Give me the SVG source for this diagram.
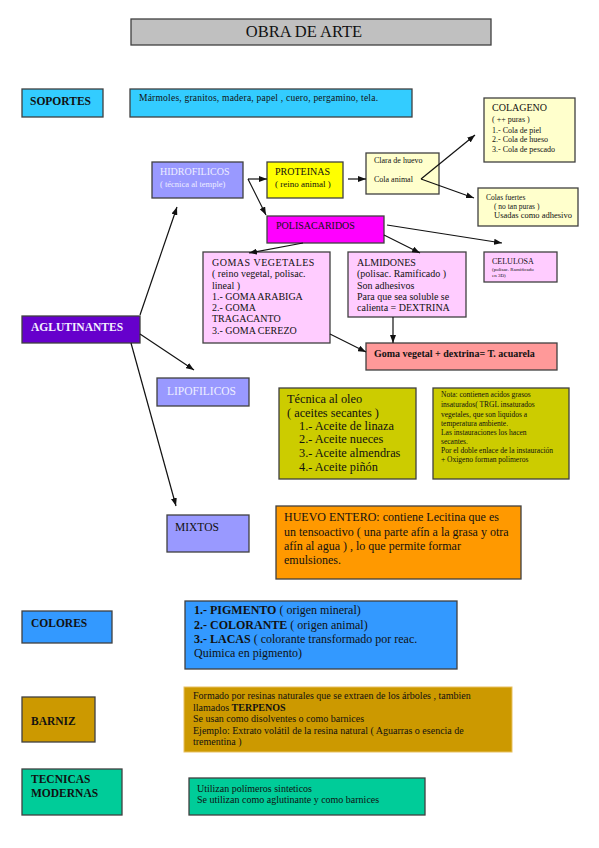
<svg xmlns="http://www.w3.org/2000/svg" width="599" height="848" viewBox="0 0 599 848">
<style>
.b{stroke:#404040;stroke-width:1.3}
text{font-family:"Liberation Serif","Times New Roman",serif;fill:#111}
.bd{font-weight:bold}
.w{fill:#eeeeff}
.c{stroke:#111;stroke-width:1.2;fill:none;marker-end:url(#ah)}
</style>
<defs>
<marker id="ah" viewBox="0 0 8 6" refX="8" refY="3" markerWidth="8" markerHeight="6" markerUnits="userSpaceOnUse" orient="auto">
<path d="M0,0 L8,3 L0,6 z" fill="#111"/>
</marker>
</defs>
<rect width="599" height="848" fill="#fff"/>

<g id="title"><rect class="b" x="131" y="19" width="360" height="26" fill="#c0c0c0"/><text x="304" y="37" font-size="16.5" text-anchor="middle">OBRA DE ARTE</text></g>

<g id="soportes"><rect class="b" x="22" y="89" width="81" height="28" fill="#33ccff"/><text class="bd" x="30" y="105" font-size="11.5">SOPORTES</text></g>
<g id="soportes-desc"><rect class="b" x="130" y="89" width="282" height="28" fill="#33ccff"/><text x="139" y="101" font-size="9.5" textLength="239">Mármoles, granitos, madera, papel , cuero, pergamino, tela.</text></g>

<g id="hidrofilicos"><rect class="b" x="152" y="162" width="91" height="36" fill="#9999ff"/><text class="w" x="160" y="175" font-size="10">HIDROFILICOS<tspan x="160" y="187" font-size="8.5">( técnica al temple)</tspan></text></g>
<g id="proteinas"><rect class="b" x="267" y="162" width="76" height="36" fill="#ffff00"/><text x="275" y="175" font-size="10">PROTEINAS<tspan x="275" y="187" font-size="9">( reino animal )</tspan></text></g>
<g id="clara"><rect class="b" x="366" y="153" width="73" height="41" fill="#ffffcc"/><text x="374" y="163" font-size="8">Clara de huevo<tspan x="374" y="182">Cola animal</tspan></text></g>
<g id="colageno"><rect class="b" x="484" y="98" width="91" height="64" fill="#ffffcc"/><text x="492" y="111" font-size="10">COLAGENO<tspan x="492" y="122" font-size="8">( ++ puras )</tspan><tspan x="492" y="133" font-size="8">1.- Cola de piel</tspan><tspan x="492" y="142" font-size="8">2.- Cola de hueso</tspan><tspan x="492" y="152" font-size="8">3.- Cola de pescado</tspan></text></g>
<g id="colas-fuertes"><rect class="b" x="478" y="188" width="100" height="38" fill="#ffffcc"/><text x="486" y="200" font-size="7.5">Colas fuertes<tspan x="494" y="209">( no tan puras )</tspan><tspan x="494" y="218" font-size="8.5">Usadas como adhesivo</tspan></text></g>
<g id="polisacaridos"><rect class="b" x="267" y="216" width="117" height="27" fill="#ff00ff"/><text x="276" y="229" font-size="10">POLISACARIDOS</text></g>
<g id="gomas"><rect class="b" x="203" y="252" width="127" height="91" fill="#ffccff"/><text x="212" y="266" font-size="10"><tspan letter-spacing="0.5">GOMAS VEGETALES</tspan><tspan x="212" y="277">( reino vegetal, polisac.</tspan><tspan x="212" y="289">lineal )</tspan><tspan x="212" y="300">1.- GOMA ARABIGA</tspan><tspan x="212" y="311">2.- GOMA</tspan><tspan x="212" y="322">TRAGACANTO</tspan><tspan x="212" y="334">3.- GOMA CEREZO</tspan></text></g>
<g id="almidones"><rect class="b" x="348" y="252" width="118" height="65" fill="#ffccff"/><text x="357" y="266" font-size="10">ALMIDONES<tspan x="357" y="277">(polisac. Ramificado )</tspan><tspan x="357" y="289">Son adhesivos</tspan><tspan x="357" y="300">Para que sea soluble se</tspan><tspan x="357" y="311">calienta = DEXTRINA</tspan></text></g>
<g id="celulosa"><rect class="b" x="484" y="252" width="73" height="30" fill="#ffccff"/><text x="492" y="264" font-size="8">CELULOSA<tspan x="492" y="271" font-size="5">(polisac. Ramificado</tspan><tspan x="492" y="277" font-size="5">en 3D)</tspan></text></g>
<g id="acuarela"><rect class="b" x="366" y="343" width="191" height="27" fill="#ff9999"/><text class="bd" x="374" y="357" font-size="10">Goma vegetal + dextrina= T. acuarela</text></g>

<g id="aglutinantes"><rect class="b" x="22" y="316" width="118" height="27" fill="#6600cc"/><text class="bd" x="31" y="331" font-size="11.5" style="fill:#f4f0ff">AGLUTINANTES</text></g>
<g id="lipofilicos"><rect class="b" x="157" y="378" width="92" height="28" fill="#9999ff"/><text class="w" x="167" y="395" font-size="11.5">LIPOFILICOS</text></g>
<g id="oleo"><rect class="b" x="279" y="388" width="137" height="91" fill="#cccc00"/><text x="287" y="403" font-size="12.3">Técnica al oleo<tspan x="287" y="417">( aceites secantes )</tspan><tspan x="299" y="430">1.- Aceite de linaza</tspan><tspan x="299" y="443">2.- Aceite nueces</tspan><tspan x="299" y="457">3.- Aceite almendras</tspan><tspan x="299" y="471">4.- Aceite piñón</tspan></text></g>
<g id="nota"><rect class="b" x="433" y="388" width="136" height="91" fill="#cccc00"/><text x="441" y="397" font-size="7.5">Nota: contienen acidos grasos<tspan x="441" y="407">insaturados( TRGL insaturados</tspan><tspan x="441" y="417">vegetales, que son liquidos a</tspan><tspan x="441" y="426">temperatura ambiente.</tspan><tspan x="441" y="435">Las instauraciones los hacen</tspan><tspan x="441" y="444">secantes.</tspan><tspan x="441" y="453">Por el doble enlace de la instauración</tspan><tspan x="441" y="462">+ Oxigeno forman polimeros</tspan></text></g>
<g id="mixtos"><rect class="b" x="167" y="515" width="82" height="37" fill="#9999ff"/><text x="175" y="531" font-size="11.5">MIXTOS</text></g>
<g id="huevo"><rect class="b" x="276" y="506" width="245" height="73" fill="#ff9900"/><text x="284" y="521" font-size="12">HUEVO ENTERO: contiene Lecitina que es<tspan x="284" y="535.5">un tensoactivo ( una parte afín a la grasa y otra</tspan><tspan x="284" y="549.5">afín al  agua ) , lo que permite formar</tspan><tspan x="284" y="564">emulsiones.</tspan></text></g>

<g id="colores"><rect class="b" x="22" y="611" width="90" height="32" fill="#3399ff"/><text class="bd" x="31" y="627" font-size="11.5">COLORES</text></g>
<g id="colores-desc"><rect class="b" x="185" y="601" width="272" height="68" fill="#3399ff"/><text x="194" y="614" font-size="12"><tspan class="bd">1.- PIGMENTO</tspan> ( origen mineral)<tspan x="194" y="628.5"><tspan class="bd">2.- COLORANTE</tspan> ( origen animal)</tspan><tspan x="194" y="642.5"><tspan class="bd">3.- LACAS</tspan> ( colorante transformado por reac.</tspan><tspan x="194" y="656.5">Quimica en pigmento)</tspan></text></g>

<g id="barniz"><rect class="b" x="22" y="697" width="73" height="45" fill="#cc9900"/><text class="bd" x="31" y="725" font-size="11.5">BARNIZ</text></g>
<g id="barniz-desc"><rect x="184" y="687" width="328" height="65" fill="#cc9900" stroke="#e8c060" stroke-width="1"/><text x="193" y="698.5" font-size="10">Formado por resinas naturales que se extraen de los árboles , tambien<tspan x="193" y="710.5">llamados <tspan class="bd">TERPENOS</tspan></tspan><tspan x="193" y="722">Se usan como disolventes o como barnices</tspan><tspan x="193" y="733.5">Ejemplo: Extrato volátil de la resina natural ( Aguarras o esencia de</tspan><tspan x="193" y="745">trementina )</tspan></text></g>

<g id="tecnicas"><rect class="b" x="22" y="769" width="100" height="46" fill="#00cc99"/><text class="bd" x="31" y="783" font-size="11.5">TECNICAS<tspan x="31" y="797">MODERNAS</tspan></text></g>
<g id="tecnicas-desc"><rect class="b" x="189" y="778" width="236" height="37" fill="#00cc99"/><text x="197" y="792" font-size="10">Utilizan polímeros sinteticos<tspan x="197" y="803">Se utilizan como aglutinante y como barnices</tspan></text></g>

<g id="connectors">
<path class="c" d="M140,315 L177,207"/>
<path class="c" d="M140,334 L194,370"/>
<path class="c" d="M131,343 L176,506"/>
<path class="c" d="M248,179 L267,179"/>
<path class="c" d="M248,179 L266,215"/>
<path class="c" d="M348,179 L366,179"/>
<path class="c" d="M421,179 L475,135"/>
<path class="c" d="M421,179 L474,198"/>
<path class="c" d="M303,243 L249,253"/>
<path class="c" d="M384,235 L420,253"/>
<path class="c" d="M387,225 L502,243"/>
<path class="c" d="M393,317 L393,343"/>
<path class="c" d="M330,334 L366,352"/>
</g>
</svg>
